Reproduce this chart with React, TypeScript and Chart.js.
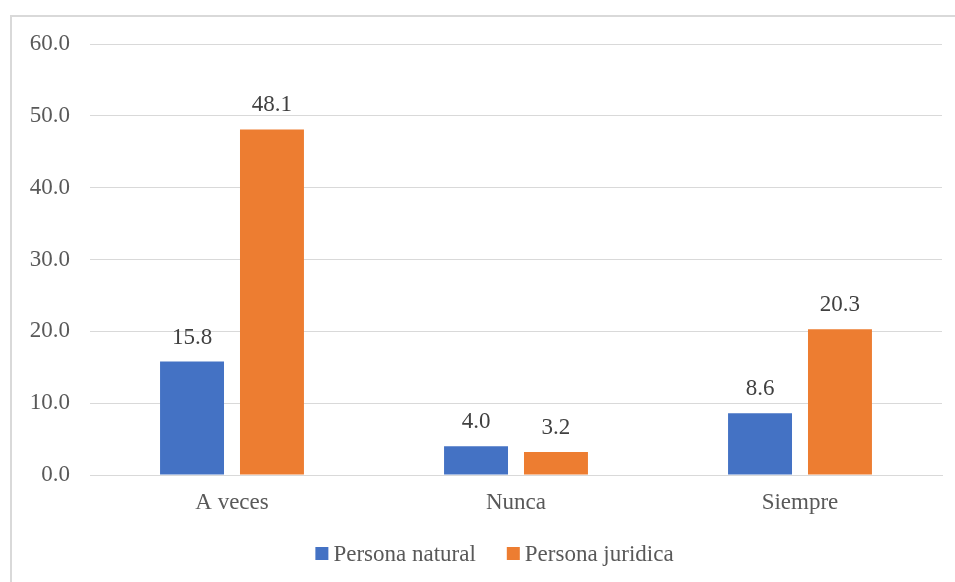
import React, { useEffect, useRef } from "react";
import { Chart, registerables } from "chart.js";

Chart.register(...registerables);

const categories = ["A veces", "Nunca", "Siempre"];
const personaNatural = [15.8, 4.0, 8.6];
const personaJuridica = [48.1, 3.2, 20.3];
const seriesNames = ["Persona natural", "Persona juridica"];
const seriesColors = ["#4472C4", "#ED7D31"];

const FONT = "Liberation Serif";
const TEXT = "#595959";
const SIZE = 23;

const framePlugin = {
  id: "frame",
  beforeDraw(chart: any) {
    const ctx = chart.ctx;
    ctx.save();
    ctx.fillStyle = "#ffffff";
    ctx.fillRect(0, 0, chart.width, chart.height);
    ctx.strokeStyle = "#d9d9d9";
    ctx.lineWidth = 2;
    ctx.beginPath();
    ctx.moveTo(11, chart.height);
    ctx.lineTo(11, 16);
    ctx.lineTo(chart.width, 16);
    ctx.stroke();
    ctx.restore();
  },
};

const labelPlugin = {
  id: "barLabels",
  afterDatasetsDraw(chart: any) {
    const ctx = chart.ctx;
    ctx.save();
    ctx.font = `${SIZE}px "${FONT}"`;
    ctx.fillStyle = "#404040";
    ctx.textAlign = "center";
    ctx.textBaseline = "alphabetic";
    chart.data.datasets.forEach((ds: any, i: number) => {
      const meta = chart.getDatasetMeta(i);
      meta.data.forEach((bar: any, j: number) => {
        ctx.fillText(Number(ds.data[j]).toFixed(1), bar.x, bar.y - 18);
      });
    });
    ctx.restore();
  },
};

const legendPlugin = {
  id: "customLegend",
  afterDraw(chart: any) {
    const ctx = chart.ctx;
    ctx.save();
    ctx.font = `${SIZE}px "${FONT}"`;
    ctx.textBaseline = "alphabetic";
    ctx.textAlign = "left";
    const box = 13;
    const gap = 5;
    const itemGap = 31;
    const ds = chart.data.datasets;
    const widths = ds.map((d: any) => box + gap + ctx.measureText(d.label).width);
    const total = widths.reduce((a: number, b: number) => a + b, 0) + itemGap * (ds.length - 1);
    const center = (11 + 978) / 2;
    let x = center - total / 2;
    const baseline = 561;
    ds.forEach((d: any, i: number) => {
      ctx.fillStyle = d.backgroundColor;
      ctx.fillRect(x, baseline - 14, box, box);
      ctx.fillStyle = TEXT;
      ctx.fillText(d.label, x + box + gap, baseline);
      x += widths[i] + itemGap;
    });
    ctx.restore();
  },
};

export default function App() {
  const ref = useRef<HTMLCanvasElement>(null);
  useEffect(() => {
    if (!ref.current) return;
    let chart: any = null;
    let cancelled = false;
    const make = () => {
      if (cancelled || !ref.current) return;
      chart = new Chart(ref.current, {
        type: "bar",
        data: {
          labels: categories,
          datasets: [
            { label: seriesNames[0], data: personaNatural, backgroundColor: seriesColors[0] },
            { label: seriesNames[1], data: personaJuridica, backgroundColor: seriesColors[1] },
          ],
        },
        options: {
          animation: false,
          responsive: false,
          maintainAspectRatio: false,
          layout: { padding: { top: 44, right: 13, bottom: 65, left: 0 } },
          datasets: { bar: { barPercentage: 0.8, categoryPercentage: 0.563 } },
          scales: {
            x: {
              afterFit: (s: any) => { s.height = 42; },
              grid: { display: false, drawTicks: false },
              border: { display: true, color: "#d9d9d9", width: 1 },
              ticks: { color: TEXT, font: { family: FONT, size: SIZE }, padding: 14 },
            },
            y: {
              min: 0,
              max: 60,
              afterFit: (s: any) => { s.width = 90; },
              grid: { color: "#d9d9d9", drawTicks: false },
              border: { display: false },
              ticks: {
                stepSize: 10,
                color: TEXT,
                padding: 20,
                font: { family: FONT, size: SIZE },
                callback: (v: any) => Number(v).toFixed(1),
              },
            },
          },
          plugins: {
            legend: { display: false },
            tooltip: { enabled: false },
          },
        },
        plugins: [framePlugin, labelPlugin, legendPlugin],
      });
    };
    const fonts: any = (document as any).fonts;
    if (fonts && fonts.load) {
      fonts.load(`${SIZE}px "${FONT}"`).then(make, make);
    } else {
      make();
    }
    return () => {
      cancelled = true;
      if (chart) chart.destroy();
    };
  }, []);
  return (
    <div style={{ position: "fixed", left: 0, top: 0, width: 955, height: 582 }}>
      <canvas ref={ref} width={955} height={582} style={{ display: "block" }} />
    </div>
  );
}
